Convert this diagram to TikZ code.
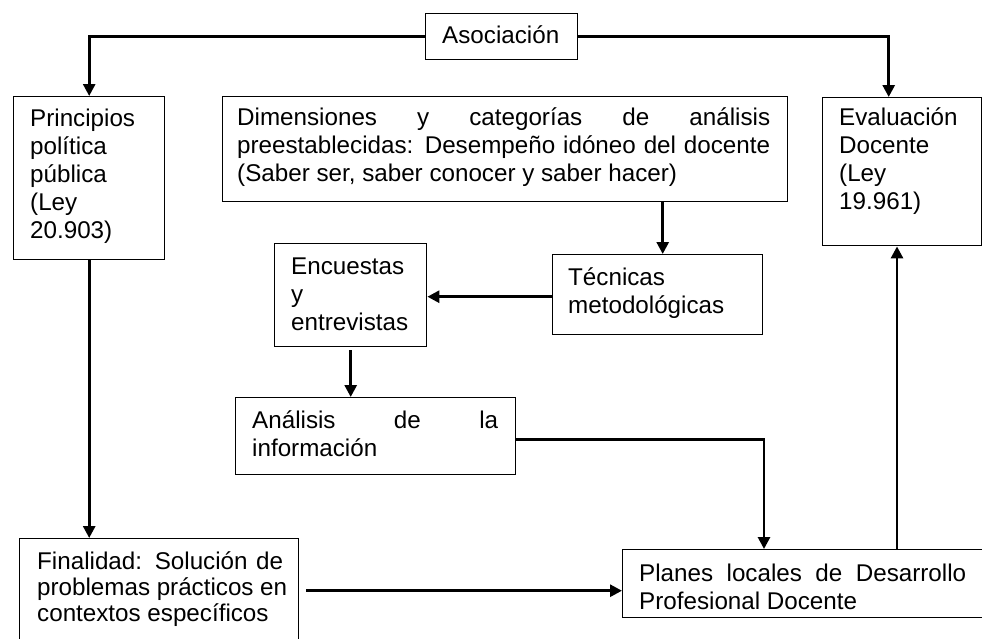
\documentclass[tikz,border=0pt]{standalone}
\usepackage{fontspec}
\setmainfont{Liberation Sans}
\usetikzlibrary{arrows.meta,calc}
\newcommand\jline[2]{\makebox[#1][s]{#2}}
\newcommand\tbox[3][28pt]{\parbox[t]{#2}{\baselineskip=#1\relax\lineskiplimit=-20pt\relax #3}}
\begin{document}
\begin{tikzpicture}[x=1pt,y=-1pt,
  box/.style={draw, line width=1.4pt, inner sep=0pt, anchor=north west},
  txt/.style={inner sep=0pt, anchor=base west, font=\fontsize{24.2}{28}\selectfont},
  arr/.style={line width=2.8pt, -{Triangle[length=12pt,width=12pt]}}]
\useasboundingbox (0,0) rectangle (982,638);
% boxes
\node[box, minimum width=152pt, minimum height=46pt] (aso) at (425,13) {};
\node[box, minimum width=151pt, minimum height=163pt] (prin) at (13,96) {};
\node[box, minimum width=565pt, minimum height=105pt] (dim) at (222,96) {};
\node[box, minimum width=159pt, minimum height=148pt] (eva) at (822,97) {};
\node[box, minimum width=210pt, minimum height=80pt] (tec) at (552,254) {};
\node[box, minimum width=152pt, minimum height=103pt] (enc) at (274,243) {};
\node[box, minimum width=280pt, minimum height=77pt] (ana) at (235,397) {};
\node[box, minimum width=400pt, minimum height=68pt] (pla) at (622,549) {};
\node[box, minimum width=279pt, minimum height=104pt] (fin) at (19,538) {};
% texts
\node[txt] (tAso) at (442,43) {Asociación};
\node[txt] (tPrin) at (30,126) {\tbox{130pt}{\raggedright Principios\\política\\pública\\(Ley\\20.903)}};
\node[txt] (tDim) at (237,125) {\tbox{533pt}{\jline{533pt}{Dimensiones y categorías de análisis}\\\jline{533pt}{preestablecidas: Desempeño idóneo del docente}\\(Saber ser, saber conocer y saber hacer)}};
\node[txt] (tEva) at (839,125) {\tbox{140pt}{\raggedright Evaluación\\Docente\\(Ley\\19.961)}};
\node[txt] (tTec) at (568,285) {\tbox{190pt}{\raggedright Técnicas\\metodológicas}};
\node[txt] (tEnc) at (291,274) {\tbox{135pt}{\raggedright Encuestas\\y\\entrevistas}};
\node[txt] (tAna) at (252,428) {\tbox{246pt}{\jline{246pt}{Análisis de la}\\información}};
\node[txt] (tPla) at (639,581) {\tbox{327pt}{\jline{327pt}{Planes locales de Desarrollo}\\Profesional Docente}};
\node[txt] (tFin) at (37,569) {\tbox[26pt]{250pt}{\jline{246pt}{Finalidad: Solución de}\\problemas prácticos en\\contextos específicos}};
% connectors
\draw[arr] (aso.west) -| (prin.north);
\draw[arr] (aso.east) -| ([xshift=-13.5pt]eva.north);
\draw[arr] ([xshift=5pt]tec.north |- dim.south) -- ([xshift=5pt]tec.north);
\draw[arr] ([yshift=-2pt]tec.west) -- ([yshift=-2pt]tec.west -| enc.east);
\draw[arr, shorten <=3pt] (enc.south) -- (enc.south |- ana.north);
\coordinate (pa) at ($(pla.north west)+(142,0)$);
\draw[arr] ([yshift=-3pt]ana.east) -| (pa);
\coordinate (pe) at ($(pla.north west)+(275,0)$);
\draw[arr] (pe) -- (pe |- eva.south);
\draw[arr] (prin.south) -- (prin.south |- fin.north);
\draw[arr, shorten <=7pt] (fin.east) -- (fin.east -| pla.west);
\end{tikzpicture}
\end{document}
